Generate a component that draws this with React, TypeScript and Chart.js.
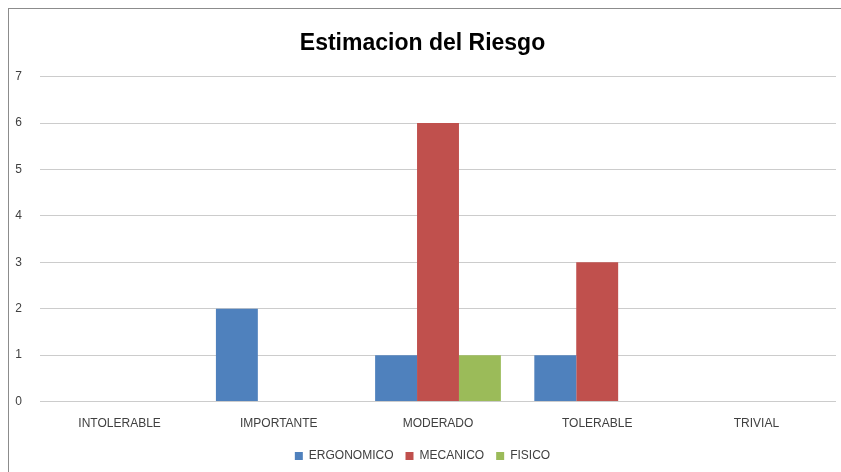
import React, { useEffect, useRef } from "react";
import { Chart, registerables } from "chart.js";

Chart.register(...registerables);

const categories = ["INTOLERABLE", "IMPORTANTE", "MODERADO", "TOLERABLE", "TRIVIAL"];
const ergonomico = [0, 2, 1, 1, 0];
const mecanico = [0, 0, 6, 3, 0];
const fisico = [0, 0, 1, 0, 0];
const yTicks = [0, 1, 2, 3, 4, 5, 6, 7];

const FONT = "'Liberation Sans', Arial, sans-serif";

export default function App() {
  const ref = useRef<HTMLCanvasElement>(null);
  useEffect(() => {
    if (!ref.current) return;
    const chart = new Chart(ref.current, {
      type: "bar",
      data: {
        labels: categories,
        datasets: [
          { label: "ERGONOMICO", data: ergonomico, backgroundColor: "#4f81bd" },
          { label: "MECANICO", data: mecanico, backgroundColor: "#c0504d" },
          { label: "FISICO", data: fisico, backgroundColor: "#9bbb59" },
        ],
      },
      options: {
        animation: false,
        responsive: false,
        maintainAspectRatio: false,
        layout: { padding: { left: 0, right: 5, top: 0, bottom: 0 } },
        datasets: { bar: { categoryPercentage: 0.79, barPercentage: 1 } },
        plugins: {
          title: {
            display: true,
            text: "Estimacion del Riesgo",
            color: "#000",
            font: { family: FONT, size: 23, weight: "bold" },
            padding: { top: 21, bottom: 19 },
          },
          legend: {
            position: "bottom",
            labels: {
              color: "#404040",
              font: { family: FONT, size: 12 },
              boxWidth: 8,
              boxHeight: 8,
              padding: 12,
            },
          },
          tooltip: { enabled: false },
        },
        scales: {
          x: {
            grid: { display: false },
            border: { display: false },
            ticks: { color: "#404040", font: { family: FONT, size: 12 }, padding: 7 },
          },
          y: {
            min: 0,
            max: 7,
            afterBuildTicks: (axis: any) => {
              axis.ticks = yTicks.map((v) => ({ value: v }));
            },
            afterFit: (axis: any) => {
              axis.width = 31;
            },
            grid: { color: "#cccccc", drawTicks: false, lineWidth: 1 },
            border: { display: false },
            ticks: { color: "#404040", font: { family: FONT, size: 12 }, padding: 18 },
          },
        },
      },
    });
    return () => chart.destroy();
  }, []);
  return (
    <div
      style={{
        position: "fixed",
        left: 8,
        top: 8,
        width: 833,
        height: 464,
        borderLeft: "1px solid #8c8c8c",
        borderTop: "1px solid #8c8c8c",
        background: "#fff",
      }}
    >
      <canvas ref={ref} width={832} height={463} style={{ display: "block" }} />
    </div>
  );
}
